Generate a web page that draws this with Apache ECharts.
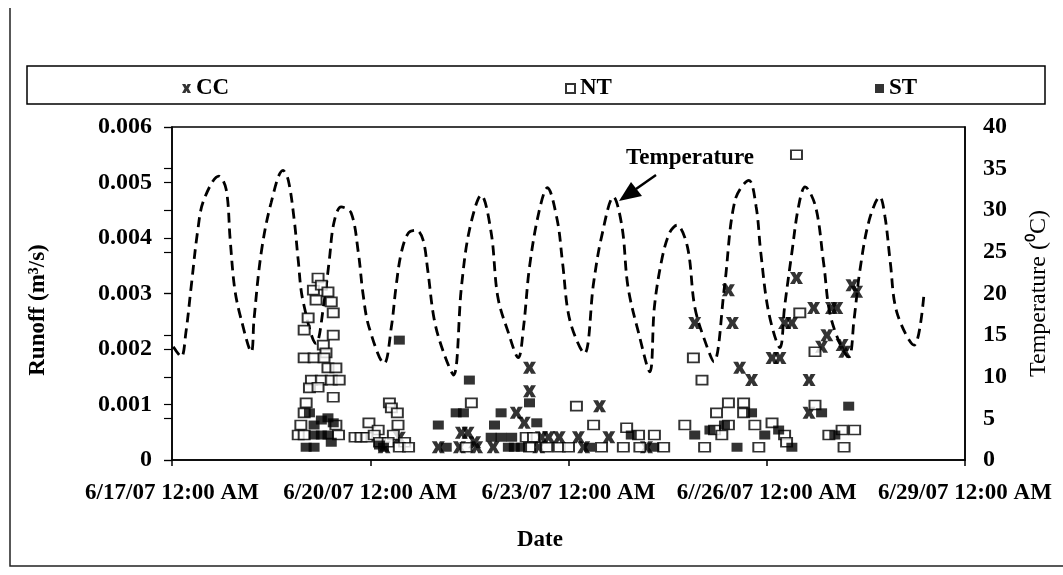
<!DOCTYPE html>
<html>
<head>
<meta charset="utf-8">
<script src="https://cdn.jsdelivr.net/npm/echarts@6/dist/echarts.min.js"></script>
<style>
  * { margin: 0; padding: 0; }
  html, body { background: #fff; }
  #chart { width: 1063px; height: 575px; }
</style>
</head>
<body>
<div id="chart"></div>
<script>
// x values are days since 6/17/07 12:00 AM
var xTickLabels = ['6/17/07 12:00 AM', '6/20/07 12:00 AM', '6/23/07 12:00 AM', '6//26/07 12:00 AM', '6/29/07 12:00 AM'];

// temperature (deg C), right axis
var tempData = [
  [0.02, 13.6], [0.14, 12.4], [0.21, 15.3], [0.29, 20.8], [0.39, 27.6], [0.48, 31.2], [0.71, 34.1], [0.82, 32.5],
  [0.88, 26.5], [0.95, 20.5], [1.05, 16.8], [1.20, 13.0], [1.24, 16.8], [1.35, 24.9], [1.50, 30.9], [1.68, 34.8],
  [1.76, 33.6], [1.85, 28.8], [1.91, 24.0], [1.98, 19.2], [2.18, 14.0], [2.30, 18.9], [2.38, 24.0], [2.45, 28.5],
  [2.56, 30.4], [2.71, 29.7], [2.82, 24.9], [2.89, 20.0], [2.98, 16.0], [3.21, 11.6], [3.32, 16.0], [3.39, 20.8],
  [3.47, 24.9], [3.58, 27.3], [3.70, 27.6], [3.80, 26.4], [3.87, 22.8], [3.97, 16.8], [4.11, 12.9], [4.26, 10.2],
  [4.38, 20.8], [4.50, 27.6], [4.68, 31.8], [4.83, 27.3], [4.93, 19.6], [5.09, 15.3], [5.24, 12.3], [5.32, 16.0],
  [5.41, 23.2], [5.55, 29.7], [5.68, 32.7], [5.83, 28.8], [5.91, 23.7], [6.02, 16.8], [6.24, 12.8], [6.38, 21.3],
  [6.50, 26.8], [6.68, 31.6], [6.81, 28.0], [6.90, 20.8], [7.06, 15.3], [7.23, 10.6], [7.30, 18.4], [7.41, 24.0],
  [7.53, 27.3], [7.64, 28.2], [7.80, 25.6], [7.91, 18.4], [8.06, 14.4], [8.20, 11.8], [8.36, 20.8], [8.52, 31.2],
  [8.73, 33.6], [8.84, 30.4], [8.91, 24.9], [9.03, 17.7], [9.20, 13.5], [9.27, 18.4], [9.38, 24.9], [9.48, 30.4],
  [9.58, 32.8], [9.74, 30.4], [9.86, 23.7], [9.98, 16.8], [10.24, 12.4], [10.32, 16.8], [10.41, 22.8], [10.55, 28.8],
  [10.71, 31.6], [10.79, 29.2], [10.87, 23.7], [10.97, 17.7], [11.23, 13.8], [11.38, 20.0]
];

// runoff (m3/s), left axis
var ccData = [
  [3.21, 0.00023], [3.44, 0.00040], [4.03, 0.00023], [4.35, 0.00023], [4.38, 0.00049], [4.48, 0.00049], [4.58, 0.00032],
  [4.61, 0.00023], [4.86, 0.00023], [5.21, 0.00085], [5.33, 0.00067], [5.41, 0.00166], [5.41, 0.00124], [5.55, 0.00023],
  [5.59, 0.00041], [5.70, 0.00041], [5.86, 0.00041], [6.15, 0.00041], [6.47, 0.00097], [6.61, 0.00041], [6.23, 0.00023],
  [7.18, 0.00023], [7.91, 0.00247], [8.42, 0.00306], [8.48, 0.00247], [8.59, 0.00166], [8.77, 0.00144], [9.08, 0.00184],
  [9.20, 0.00184], [9.27, 0.00247], [9.38, 0.00247], [9.45, 0.00328], [9.71, 0.00274], [9.98, 0.00274], [10.06, 0.00274],
  [9.91, 0.00225], [9.83, 0.00204], [10.14, 0.00207], [10.18, 0.00195], [10.29, 0.00315], [10.36, 0.00303],
  [9.64, 0.00144], [9.64, 0.00085]
];
var ntData = [
  [2.21, 0.00328], [2.14, 0.00306], [2.26, 0.00315], [2.36, 0.00303], [2.18, 0.00288], [2.41, 0.00285], [2.44, 0.00265],
  [2.06, 0.00256], [2.00, 0.00234], [2.44, 0.00225], [2.29, 0.00207], [2.33, 0.00193], [2.00, 0.00184], [2.15, 0.00184],
  [2.30, 0.00184], [2.36, 0.00166], [2.48, 0.00166], [2.11, 0.00144], [2.26, 0.00144], [2.41, 0.00144], [2.53, 0.00144],
  [2.08, 0.00130], [2.21, 0.00131], [2.44, 0.00113], [2.03, 0.00103], [2.00, 0.00085], [1.95, 0.00063], [2.48, 0.00063],
  [1.91, 0.00045], [2.00, 0.00045], [2.52, 0.00045],
  [3.29, 0.00103], [3.32, 0.00094], [3.41, 0.00085], [3.42, 0.00063], [2.98, 0.00067], [3.12, 0.00054], [2.77, 0.00041],
  [2.86, 0.00041], [2.95, 0.00041], [3.06, 0.00045], [3.35, 0.00045], [3.14, 0.00032], [3.27, 0.00032], [3.52, 0.00032],
  [3.44, 0.00023], [3.58, 0.00023],
  [4.53, 0.00103], [4.45, 0.00023], [5.36, 0.00041], [5.47, 0.00041], [5.41, 0.00023], [5.67, 0.00023], [5.86, 0.00023],
  [6.00, 0.00023], [6.12, 0.00097], [6.38, 0.00063], [6.88, 0.00058], [7.06, 0.00045], [7.30, 0.00045], [6.50, 0.00023],
  [6.83, 0.00023], [7.08, 0.00023], [7.44, 0.00023],
  [7.89, 0.00184], [8.02, 0.00144], [7.76, 0.00063], [8.06, 0.00023], [8.42, 0.00103], [8.65, 0.00103], [8.24, 0.00085],
  [8.65, 0.00085], [8.42, 0.00063], [8.21, 0.00054], [8.32, 0.00045], [8.82, 0.00063], [9.08, 0.00067], [9.27, 0.00045],
  [9.30, 0.00032], [8.88, 0.00023], [9.50, 0.00265], [9.73, 0.00195], [9.73, 0.00099], [9.94, 0.00045], [10.14, 0.00054],
  [10.33, 0.00054], [10.17, 0.00023], [9.45, 0.00550]
];
var stData = [
  [2.08, 0.00085], [2.26, 0.00072], [2.36, 0.00076], [2.15, 0.00063], [2.44, 0.00067], [2.15, 0.00045], [2.26, 0.00045],
  [2.36, 0.00045], [2.41, 0.00032], [2.03, 0.00023], [2.15, 0.00023],
  [3.20, 0.00023], [3.14, 0.00027], [3.44, 0.00216], [4.03, 0.00063], [4.30, 0.00085], [4.41, 0.00085], [4.50, 0.00144],
  [4.98, 0.00085], [4.88, 0.00063], [5.41, 0.00103], [5.52, 0.00067], [4.83, 0.00041], [4.98, 0.00041], [5.14, 0.00041],
  [5.09, 0.00023], [5.18, 0.00023], [5.29, 0.00023], [4.15, 0.00023], [6.32, 0.00023], [6.95, 0.00045], [7.29, 0.00023],
  [7.91, 0.00045], [8.14, 0.00054], [8.36, 0.00063], [8.77, 0.00085], [8.97, 0.00045], [9.18, 0.00054], [8.55, 0.00023],
  [9.38, 0.00023], [9.83, 0.00085], [10.24, 0.00097], [10.03, 0.00045]
];

var FONT = '"Liberation Serif", "Times New Roman", serif';
var crossPath = 'path://M0,0 L3.8,0 L5,2.6 L6.2,0 L10,0 L7.2,5 L10,10 L6.2,10 L5,7.4 L3.8,10 L0,10 L2.8,5 Z';

var myChart = echarts.init(document.getElementById('chart'), null, { renderer: 'canvas' });

function legendAt(name, left) {
  return {
    data: [name], left: left, top: 72, itemWidth: 9, itemHeight: 9, itemGap: 0,
    textStyle: { fontFamily: FONT, fontSize: 23, fontWeight: 'bold', color: '#000' }
  };
}

myChart.setOption({
  backgroundColor: '#fff',
  animation: false,
  grid: { left: 172, right: 98, top: 127, bottom: 115, show: true, borderColor: '#000', borderWidth: 1.5, backgroundColor: 'transparent' },
  legend: [legendAt('CC', 177), legendAt('NT', 560), legendAt('ST', 870)],
  xAxis: {
    type: 'value', min: 0, max: 12, interval: 3,
    axisLine: { show: true, onZero: false, lineStyle: { color: '#000', width: 1.5 } },
    axisTick: { show: true, inside: false, length: 6, lineStyle: { color: '#000', width: 1.5 } },
    splitLine: { show: false },
    axisLabel: { margin: 22, formatter: function (v) { return xTickLabels[Math.round(v / 3)]; }, fontFamily: FONT, fontSize: 23, fontWeight: 'bold', color: '#000' }
  },
  yAxis: [
    {
      type: 'value', min: 0, max: 0.006, interval: 0.001, position: 'left',
      axisLine: { show: true, lineStyle: { color: '#000', width: 1.5 } },
      axisTick: { show: true, length: 8, lineStyle: { color: '#000', width: 1.2 } },
      splitLine: { show: false },
      axisLabel: { margin: 20, formatter: function (v) { return v === 0 ? '0' : v.toFixed(3); }, fontFamily: FONT, fontSize: 24, fontWeight: 'bold', color: '#000' }
    },
    {
      type: 'value', min: 0, max: 40, interval: 5, position: 'right',
      name: 'Temperature (⁰C)', nameLocation: 'middle', nameGap: 62, nameRotate: 90,
      nameTextStyle: { fontFamily: FONT, fontSize: 24, color: '#000' },
      axisLine: { show: true, lineStyle: { color: '#000', width: 1.5 } },
      axisTick: { show: false },
      splitLine: { show: false },
      axisLabel: { margin: 18, fontFamily: FONT, fontSize: 24, fontWeight: 'bold', color: '#000' }
    },
    {
      // temperature ticks repeated on the left axis, no labels
      type: 'value', min: 0, max: 40, interval: 5, position: 'left',
      axisLine: { show: false },
      axisTick: { show: true, length: 8, lineStyle: { color: '#000', width: 1.2 } },
      axisLabel: { show: false },
      splitLine: { show: false }
    }
  ],
  series: [
    {
      name: 'CC', type: 'scatter', data: ccData, yAxisIndex: 0,
      symbol: crossPath, symbolSize: [13, 12],
      itemStyle: { color: '#000' }
    },
    {
      name: 'NT', type: 'scatter', data: ntData, yAxisIndex: 0,
      symbol: 'rect', symbolSize: [11, 9],
      itemStyle: { color: '#fff', borderColor: '#000', borderWidth: 1.8 }
    },
    {
      name: 'ST', type: 'scatter', data: stData, yAxisIndex: 0,
      symbol: 'rect', symbolSize: [11, 9],
      itemStyle: { color: '#000' }
    },
    {
      name: 'Temperature', type: 'line', data: tempData, yAxisIndex: 1,
      showSymbol: false, smooth: 0.35,
      lineStyle: { color: '#000', width: 2.8, type: [10, 6] },
      z: 1
    }
  ],
  graphic: [
    { type: 'rect', shape: { x: 27, y: 66, width: 1018, height: 38 }, style: { fill: 'none', stroke: '#000', lineWidth: 1.5 }, z: -1 },
    { type: 'polyline', shape: { points: [[10, 8], [10, 566], [1063, 566]] }, style: { fill: 'none', stroke: '#222', lineWidth: 1.5 } },
    { type: 'text', x: 38, y: 310, rotation: Math.PI / 2, style: { text: 'Runoff (m³/s)', fontFamily: FONT, fontSize: 23, fontWeight: 'bold', fill: '#000', align: 'center', verticalAlign: 'middle' } },
    { type: 'text', x: 540, y: 540, style: { text: 'Date', fontFamily: FONT, fontSize: 23, fontWeight: 'bold', fill: '#000', align: 'center', verticalAlign: 'middle' } },
    { type: 'text', x: 690, y: 158, style: { text: 'Temperature', fontFamily: FONT, fontSize: 23, fontWeight: 'bold', fill: '#000', align: 'center', verticalAlign: 'middle' } },
    { type: 'line', shape: { x1: 656, y1: 175, x2: 636, y2: 189 }, style: { stroke: '#000', lineWidth: 2.5 } },
    { type: 'polygon', shape: { points: [[619, 201], [631, 182], [642, 196]] }, style: { fill: '#000' } }
  ]
});
</script>
</body>
</html>
